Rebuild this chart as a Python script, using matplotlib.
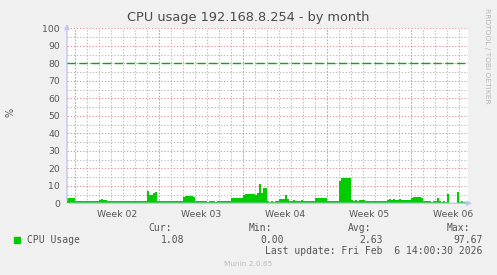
import numpy as np
import matplotlib
matplotlib.use("Agg")
import matplotlib.pyplot as plt

# CPU usage samples, one every 4 hours
cpu_usage = [
    3.2, 3.0, 3.3, 2.8, 1.5, 1.6, 1.4, 1.5, 1.6, 1.5, 1.3, 1.5,
    1.4, 1.5, 1.4, 1.6, 1.9, 2.2, 2.1, 1.8, 1.5, 1.3, 1.5, 1.4,
    1.6, 1.3, 1.5, 1.2, 1.4, 1.6, 1.5, 1.3, 1.4, 1.5, 1.3, 1.6,
    1.4, 1.5, 1.3, 1.4, 6.8, 4.5, 5.0, 5.8, 6.2, 1.5, 1.4, 1.6,
    1.5, 1.3, 1.4, 1.5, 1.2, 1.4, 1.3, 1.5, 1.4, 1.3, 3.8, 4.0,
    4.2, 4.0, 4.1, 3.6, 1.3, 1.2, 1.1, 1.3, 1.2, 1.1, 1.0, 1.2,
    1.1, 1.2, 1.0, 1.3, 1.2, 1.1, 1.2, 1.3, 1.2, 1.1, 3.0, 3.1,
    3.2, 3.0, 3.1, 3.3, 5.0, 5.2, 5.3, 5.1, 5.2, 5.4, 5.0, 6.0,
    11.0, 6.0, 8.5, 9.0, 1.2, 1.0, 1.1, 1.0, 1.2, 1.1, 2.3, 2.6,
    2.5, 4.8, 2.2, 1.6, 1.5, 1.7, 1.5, 1.6, 1.4, 1.7, 1.5, 1.6,
    1.5, 1.6, 1.4, 1.5, 3.0, 3.1, 3.0, 3.1, 3.0, 2.9, 1.6, 1.5,
    1.5, 1.6, 1.5, 1.4, 13.0, 14.5, 14.3, 14.6, 14.2, 14.5, 1.8, 1.6,
    1.7, 1.6, 2.0, 2.1, 1.8, 1.5, 1.6, 1.4, 1.5, 1.3, 1.5, 1.4,
    1.5, 1.4, 1.6, 1.5, 2.0, 2.2, 2.1, 2.2, 2.0, 2.1, 2.2, 2.0,
    2.1, 2.0, 2.1, 1.9, 3.3, 3.4, 3.4, 3.5, 3.4, 3.3, 1.2, 1.1,
    1.2, 1.1, 1.0, 1.2, 1.1, 2.8, 1.1, 1.0, 1.2, 1.0, 5.6, 0.0,
    0.0, 0.0, 0.0, 6.2, 1.0, 1.1, 0.9, 1.0,
]
week_labels = ["Week 02", "Week 03", "Week 04", "Week 05", "Week 06"]
y_ticks = list(range(0, 101, 10))
warning_level = 80

legend_name = "CPU Usage"
stat_names = ["Cur:", "Min:", "Avg:", "Max:"]
stat_values = ["1.08", "0.00", "2.63", "97.67"]
last_update = "Last update: Fri Feb  6 14:00:30 2026"

GREEN = "#00cc00"
MAJOR = "#e49a9a"
MINOR = "#bdbdbd"
AXIS = "#c0c6f4"
TEXT = "#555555"

W, H = 497, 275
fig = plt.figure(figsize=(W / 100, H / 100), dpi=100, facecolor="#f0f0f0")

x0, x1, y0, y1 = 67, 468, 203.3, 28.3
ax = fig.add_axes([x0 / W, 1 - y0 / H, (x1 - x0) / W, (y0 - y1) / H])
ax.set_facecolor("white")
for s in ax.spines.values():
    s.set_visible(False)

step = 4 / 24.0  # days per sample
edges = np.arange(len(cpu_usage) + 1) * step
ax.stairs(cpu_usage, edges, fill=True, color=GREEN, lw=0, zorder=3)

xmax = (x1 - x0) / 12.0
ax.set_xlim(0, xmax)
ax.set_ylim(0, 100)

# grid: day lines (minor) and week lines (major), offset of first midnight
first_day = 0.64
minor_x = [first_day + d for d in range(0, 33) if first_day + d < xmax]
major_x = [first_day + 7 * k for k in range(5)]
dots = (0, (1.3, 1.7))
for xv in minor_x:
    ax.axvline(xv, color=MINOR, lw=0.75, ls=dots, zorder=1)
for yv in range(5, 100, 10):
    ax.axhline(yv, color=MINOR, lw=0.75, ls=dots, zorder=1)
for xv in major_x:
    ax.axvline(xv, color=MAJOR, lw=0.75, ls=dots, zorder=2)
for yv in y_ticks[1:]:
    ax.axhline(yv, color=MAJOR, lw=0.75, ls=dots, zorder=2)

ax.axhline(warning_level, color="#00b000", lw=1.0, ls=(0, (6, 2.5)), zorder=4)

ax.set_yticks(y_ticks)
ax.set_yticklabels([str(v) for v in y_ticks])
ax.set_xticks([m + 3.5 for m in major_x])
ax.set_xticklabels(week_labels)
ax.tick_params(axis="both", length=0, labelsize=6.7, labelcolor=TEXT)
ax.tick_params(axis="y", pad=5)
ax.tick_params(axis="x", pad=4.5)

# axis lines with arrows
ax.annotate("", xy=(0, 1.04), xytext=(0, 0), xycoords="axes fraction",
            arrowprops=dict(arrowstyle="-|>", color=AXIS, lw=1, mutation_scale=7))
ax.annotate("", xy=(1.017, 0), xytext=(0, 0), xycoords="axes fraction",
            arrowprops=dict(arrowstyle="-|>", color=AXIS, lw=1, mutation_scale=7))

fig.text(248 / W, 1 - 18 / H, "CPU usage 192.168.8.254 - by month",
         ha="center", va="center", fontsize=9.3, color="#4a4a4a")
fig.text(10 / W, 1 - 112 / H, "%", rotation=90, ha="center", va="center",
         fontsize=7, color=TEXT)
fig.text(487.5 / W, 1 - 56 / H, "RRDTOOL / TOBI OETIKER", rotation=-90,
         ha="center", va="center", fontsize=5.4, color="#b8b8b8")

# legend block
mono = dict(family="DejaVu Sans Mono", fontsize=7, color=TEXT, va="center")
fig.patches.append(plt.Rectangle((14 / W, 1 - 242.5 / H), 5.5 / W, 5.5 / H,
                                 transform=fig.transFigure, color=GREEN))
fig.text(26.7 / W, 1 - 240 / H, legend_name, ha="left", **mono)
name_right = [172.3, 272.3, 371, 470]
value_right = [184.3, 284.3, 383.3, 482.7]
for name, val, nr, vr in zip(stat_names, stat_values, name_right, value_right):
    fig.text(nr / W, 1 - 228.3 / H, name, ha="right", **mono)
    fig.text(vr / W, 1 - 240 / H, val, ha="right", **mono)
fig.text(482.7 / W, 1 - 251.5 / H, last_update, ha="right", **mono)
fig.text(248.5 / W, 1 - 264.3 / H, "Munin 2.0.65", ha="center", va="center",
         fontsize=5.3, color="#bdbdbd")

fig.savefig("out.png", dpi=100, facecolor=fig.get_facecolor())
